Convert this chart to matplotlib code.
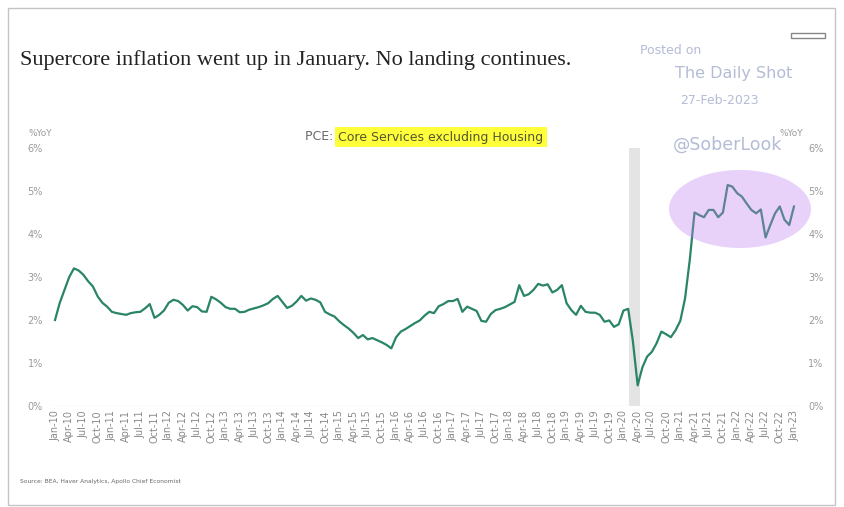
import matplotlib
matplotlib.use("Agg")
import matplotlib.pyplot as plt
from matplotlib.patches import Rectangle, Ellipse

# PCE core services ex housing, % YoY, monthly Jan-10 .. Jan-23
y2010 = [2.0, 2.4, 2.7, 3.0, 3.2, 3.15, 3.05, 2.9, 2.78, 2.55, 2.4, 2.31]
y2011 = [2.19, 2.16, 2.14, 2.12, 2.16, 2.18, 2.19, 2.27, 2.37, 2.05, 2.12, 2.22]
y2012 = [2.4, 2.47, 2.44, 2.35, 2.22, 2.32, 2.3, 2.2, 2.19, 2.54, 2.48, 2.4]
y2013 = [2.3, 2.26, 2.26, 2.18, 2.19, 2.24, 2.27, 2.3, 2.34, 2.39, 2.49, 2.56]
y2014 = [2.42, 2.28, 2.33, 2.43, 2.56, 2.45, 2.5, 2.47, 2.41, 2.19, 2.13, 2.08]
y2015 = [1.97, 1.88, 1.8, 1.7, 1.58, 1.65, 1.55, 1.58, 1.53, 1.48, 1.42, 1.34]
y2016 = [1.6, 1.73, 1.79, 1.86, 1.93, 1.99, 2.1, 2.19, 2.16, 2.32, 2.37, 2.44]
y2017 = [2.44, 2.49, 2.19, 2.31, 2.26, 2.21, 1.98, 1.96, 2.14, 2.23, 2.26, 2.3]
y2018 = [2.36, 2.42, 2.81, 2.56, 2.6, 2.7, 2.84, 2.8, 2.83, 2.64, 2.7, 2.81]
y2019 = [2.39, 2.23, 2.12, 2.33, 2.19, 2.17, 2.17, 2.12, 1.96, 1.99, 1.84, 1.9]
y2020 = [2.22, 2.26, 1.5, 0.48, 0.9, 1.15, 1.26, 1.46, 1.73, 1.67, 1.6, 1.76]
y2021 = [1.98, 2.5, 3.4, 4.5, 4.44, 4.39, 4.56, 4.56, 4.39, 4.5, 5.14, 5.1]
y2022 = [4.95, 4.87, 4.71, 4.56, 4.48, 4.57, 3.92, 4.21, 4.48, 4.64, 4.33, 4.21]
y2023 = [4.64]

values = (y2010 + y2011 + y2012 + y2013 + y2014 + y2015 + y2016 + y2017
          + y2018 + y2019 + y2020 + y2021 + y2022 + y2023)
months = list(range(len(values)))

tick_labels = [f"{m}-{y:02d}" for y in range(10, 23)
               for m in ["Jan", "Apr", "Jul", "Oct"]] + ["Jan-23"]
tick_pos = list(range(0, len(values), 3))

recession = (121.2, 123.4)
y_ticks = [0, 1, 2, 3, 4, 5, 6]
y_labels = [f"{v}%" for v in y_ticks]

W, H = 844, 507
fig = plt.figure(figsize=(W / 100, H / 100), dpi=100)


def fx(x):
    return x / W


def fy(y):
    return 1 - y / H


# outer frame
fig.patches.append(Rectangle((fx(8), fy(505)), fx(827), (497) / H,
                             transform=fig.transFigure, fill=False,
                             edgecolor="#c4c4c4", linewidth=1))
# small icon top right
fig.patches.append(Rectangle((fx(791), fy(38)), fx(34), 5 / H,
                             transform=fig.transFigure, fill=False,
                             edgecolor="#888888", linewidth=1))

ax = fig.add_axes([fx(50), fy(406), (800 - 50) / W, 258 / H])
ax.plot(months, values, color="#2a8468", linewidth=1.6, zorder=3)
ax.axvspan(*recession, color="#e4e4e4", zorder=1, linewidth=0)
ax.set_xlim(-1.06, 157.27)
ax.set_ylim(0, 6)

ax.axhline(0, color="#eeeeee", linewidth=1, zorder=0)
for s in ax.spines.values():
    s.set_visible(False)

ax.set_xticks(tick_pos)
ax.set_xticklabels(tick_labels, rotation=90, fontsize=7, color="#8a8a8a")
ax.set_yticks(y_ticks)
ax.set_yticklabels(y_labels, fontsize=7, color="#9a9a9a")
ax.tick_params(length=0, pad=5)
ax.tick_params(axis="x", pad=3)

ax2 = ax.twinx()
ax2.set_ylim(0, 6)
ax2.set_yticks(y_ticks)
ax2.set_yticklabels(y_labels, fontsize=7, color="#9a9a9a")
ax2.tick_params(length=0, pad=6)
for s in ax2.spines.values():
    s.set_visible(False)

# highlighted region
ell = Ellipse((fx(740), fy(209)), 142 / W, 78 / H, transform=fig.transFigure,
              facecolor="#c07ff0", alpha=0.35, edgecolor="none", zorder=5)
fig.patches.append(ell)

fig.text(fx(20), fy(60), "Supercore inflation went up in January. No landing continues.",
         family="Liberation Serif", fontsize=16, color="#222222", va="center")

fig.text(fx(28), fy(133), "%YoY", fontsize=6.5, color="#9a9a9a", va="center")
fig.text(fx(780), fy(133), "%YoY", fontsize=6.5, color="#9a9a9a", va="center")

fig.text(fx(305), fy(137), "PCE: ", fontsize=9, color="#6a6a6a", va="center")
fig.text(fx(338), fy(137), "Core Services excluding Housing", fontsize=9,
         color="#555533", va="center",
         bbox=dict(facecolor="#ffff3a", edgecolor="none", pad=2.5))

wm = "#b4bcd6"
fig.text(fx(640), fy(50), "Posted on", fontsize=9, color=wm, va="center")
fig.text(fx(675), fy(73), "The Daily Shot", fontsize=11.5, color=wm, va="center")
fig.text(fx(680), fy(100), "27-Feb-2023", fontsize=9, color=wm, va="center")
fig.text(fx(673), fy(145), "@SoberLook", fontsize=12.5, color=wm, va="center")

fig.text(fx(20), fy(482), "Source: BEA, Haver Analytics, Apollo Chief Economist",
         fontsize=4.3, color="#666666", va="center")

fig.savefig("out.png", dpi=100)
